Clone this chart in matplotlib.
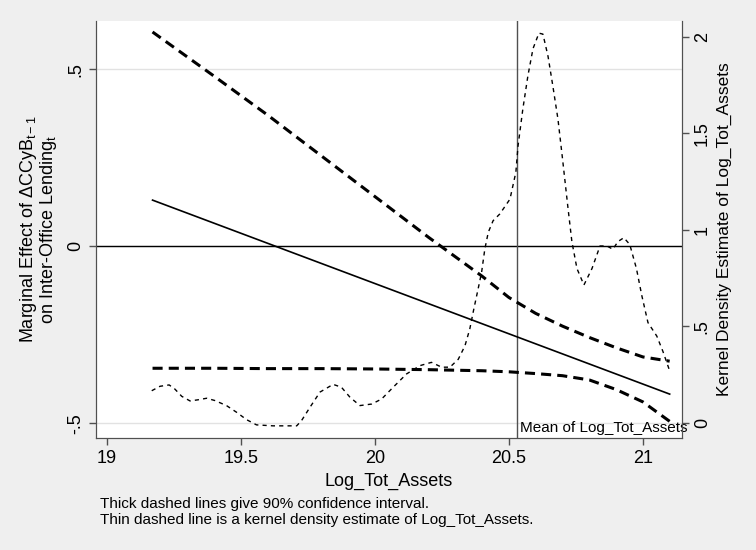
import numpy as np
import matplotlib
matplotlib.use("Agg")
import matplotlib.pyplot as plt

plt.rcParams['font.family'] = ['Liberation Sans', 'DejaVu Sans']
plt.rcParams['mathtext.fontset'] = 'custom'
plt.rcParams['mathtext.rm'] = 'Liberation Sans'
plt.rcParams['mathtext.it'] = 'Liberation Sans'

# marginal effect (straight line) and 90% CI
effect_x = [19.17, 21.1]
effect = [0.13, -0.418]

ci_x = [19.17, 19.4, 19.6, 19.8, 20.0, 20.2, 20.4, 20.5, 20.6, 20.7, 20.8, 20.9, 21.0, 21.1]
ci_upper = [0.605, 0.48, 0.37, 0.255, 0.14, 0.025, -0.085, -0.145, -0.19, -0.226, -0.258, -0.287, -0.313, -0.325]
ci_lower = [-0.345, -0.345, -0.346, -0.346, -0.347, -0.349, -0.352, -0.355, -0.36, -0.366, -0.378, -0.405, -0.44, -0.495]

# kernel density of Log_Tot_Assets (right axis)
kd_x = [19.167, 19.198, 19.232, 19.253, 19.279, 19.31, 19.34, 19.372, 19.403, 19.446,
        19.484, 19.521, 19.558, 19.62, 19.708, 19.726, 19.757, 19.795, 19.844, 19.875,
        19.907, 19.944, 19.988, 20.025, 20.068, 20.118, 20.168, 20.211, 20.249, 20.28,
        20.311, 20.336, 20.354, 20.369, 20.385, 20.398, 20.41, 20.423, 20.441, 20.466,
        20.504, 20.526, 20.534, 20.552, 20.571, 20.59, 20.612, 20.627, 20.646, 20.664,
        20.683, 20.70, 20.72, 20.735, 20.754, 20.78, 20.81, 20.84, 20.866, 20.888,
        20.907, 20.929, 20.951, 20.976, 20.996, 21.019, 21.052, 21.075, 21.10]
kd_y = [0.167, 0.19, 0.197, 0.176, 0.138, 0.114, 0.12, 0.128, 0.116, 0.09,
        0.055, 0.017, -0.01, -0.015, -0.015, 0.012, 0.08, 0.16, 0.20, 0.185,
        0.133, 0.09, 0.098, 0.124, 0.185, 0.254, 0.297, 0.314, 0.289, 0.289,
        0.33, 0.40, 0.487, 0.59, 0.694, 0.78, 0.90, 0.988, 1.048, 1.083,
        1.16, 1.30, 1.435, 1.627, 1.80, 1.94, 2.02, 2.015, 1.90, 1.746,
        1.575, 1.37, 1.12, 0.94, 0.80, 0.715, 0.80, 0.917, 0.917, 0.90,
        0.94, 0.96, 0.925, 0.80, 0.66, 0.52, 0.45, 0.37, 0.27]

mean_x = 20.53

x_ticks = [19, 19.5, 20, 20.5, 21]
x_labels = ['19', '19.5', '20', '20.5', '21']
y_ticks = [-0.5, 0, 0.5]
y_labels = ['-.5', '0', '.5']
kd_ticks = [0, 0.5, 1, 1.5, 2]
kd_labels = ['0', '.5', '1', '1.5', '2']

bg = '#efefef'
spine_c = '#505050'

fig = plt.figure(figsize=(7.56, 5.5), dpi=100, facecolor=bg)
ax = fig.add_axes([96/756, 1 - 438/550, (682-96)/756, (438-21)/550])
ax.set_facecolor('white')

ax.yaxis.grid(True, color='#e2e2e2', lw=1)
ax.set_axisbelow(True)

ax.axhline(0, color='black', lw=1)
ax.axvline(mean_x, color='#505050', lw=1)

ax.plot(effect_x, effect, color='black', lw=1.2)
ax.plot(ci_x, ci_upper, color='black', lw=2.2, dashes=(3.3, 2.0))
ax.plot(ci_x, ci_lower, color='black', lw=2.2, dashes=(3.3, 2.0))

ax.set_xlim(18.959, 21.146)
ax.set_ylim(-0.542, 0.636)
ax.set_xticks(x_ticks, x_labels, fontsize=13)
ax.set_yticks(y_ticks, y_labels, fontsize=13, rotation=90, va='center')
ax.tick_params(colors=spine_c, labelcolor='black', length=5, width=1)
for s in ax.spines.values():
    s.set_color(spine_c)
ax.spines['top'].set_visible(False)

ax.set_xlabel('Log_Tot_Assets', fontsize=13, labelpad=4)
ax.set_ylabel('Marginal Effect of ΔCCyB$_{\\mathrm{t-1}}$\non Inter-Office Lending$_{\\mathrm{t}}$',
              fontsize=13, labelpad=6, linespacing=0.95)

ax.text(mean_x + 0.01, -0.525, 'Mean of Log_Tot_Assets', fontsize=11, va='baseline',
        ha='left', clip_on=False, zorder=5)

ax2 = ax.twinx()
ax2.plot(kd_x, kd_y, color='black', lw=1.0, dashes=(3.0, 3.0))
ax2.set_ylim(-0.078, 2.083)
ax2.set_yticks(kd_ticks, kd_labels, fontsize=13, rotation=90, va='center')
ax2.tick_params(colors=spine_c, labelcolor='black', length=5, width=1)
for s in ax2.spines.values():
    s.set_color(spine_c)
ax2.spines['top'].set_visible(False)
ax2.set_ylabel('Kernel Density Estimate of Log_Tot_Assets', fontsize=12.5, labelpad=4)

fig.text(100/756, 1 - 508/550, 'Thick dashed lines give 90% confidence interval.', fontsize=11, va='baseline')
fig.text(100/756, 1 - 524/550, 'Thin dashed line is a kernel density estimate of Log_Tot_Assets.', fontsize=11, va='baseline')

fig.savefig('out.png', dpi=100, facecolor=bg)
